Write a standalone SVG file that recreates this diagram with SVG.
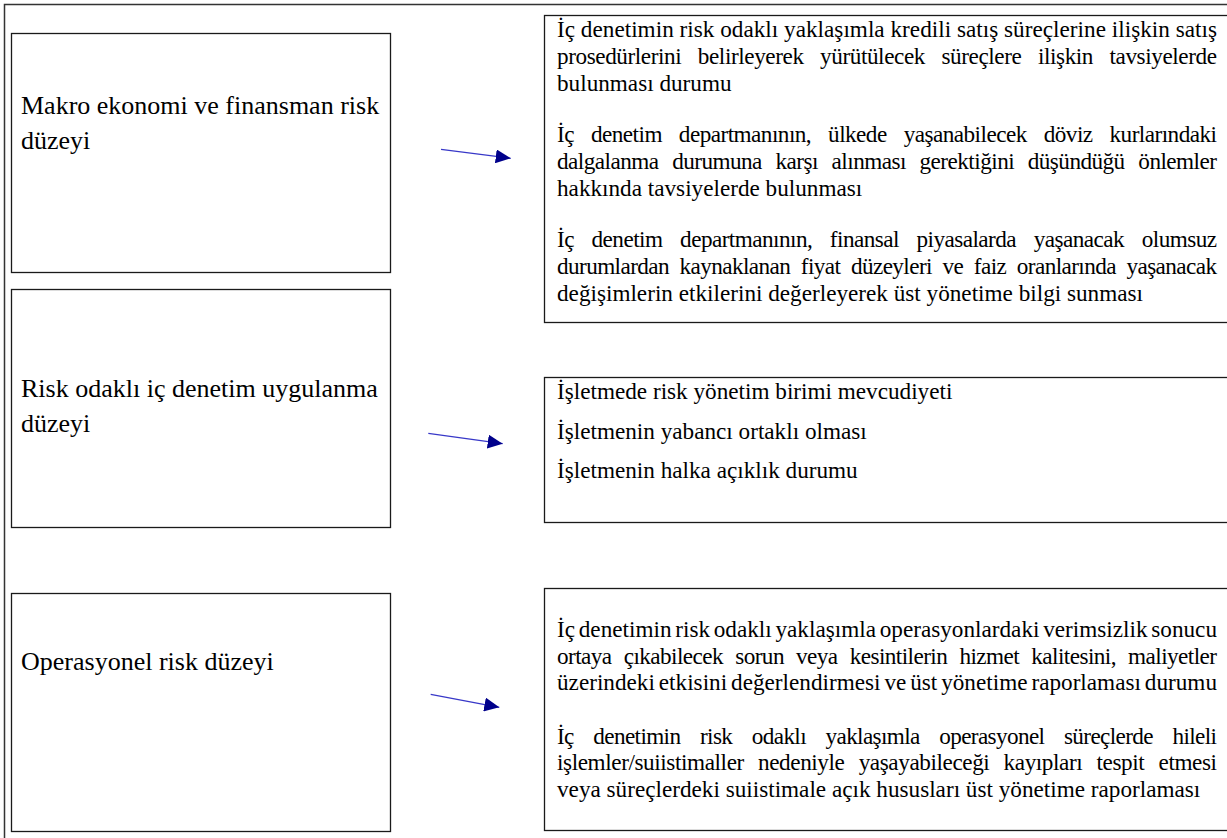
<svg xmlns="http://www.w3.org/2000/svg" width="1227" height="838" viewBox="0 0 1227 838">
<style>
.frame{fill:none;stroke:#333;stroke-width:1.5}
.box{fill:#fff;stroke:#1a1a1a;stroke-width:1.3}
.lbl{font-family:"Liberation Serif","Times New Roman",serif;font-size:26px;fill:#000}
.txt{font-family:"Liberation Serif","Times New Roman",serif;font-size:23.2px;fill:#000}
.conn{stroke:#3838c8;stroke-width:1.2;fill:none;marker-end:url(#ah)}
</style>
<defs>
<marker id="ah" markerUnits="userSpaceOnUse" viewBox="0 0 15 14" refX="15" refY="7" markerWidth="15" markerHeight="14" orient="auto">
<path d="M0,0 L15,7 L0,14 Z" fill="#00008b"/>
</marker>
</defs>
<rect x="0" y="0" width="1227" height="838" fill="#fff"/>
<rect class="frame" x="4.5" y="4.5" width="1240" height="850"/>

<g id="n-makro">
<rect class="box" x="11.5" y="33.5" width="379" height="239"/>
<text class="lbl" x="21" y="114">Makro ekonomi ve finansman risk</text>
<text class="lbl" x="21" y="149">düzeyi</text>
</g>

<g id="n-risk-odakli">
<rect class="box" x="11.5" y="289.5" width="379" height="238"/>
<text class="lbl" x="21" y="397">Risk odaklı iç denetim uygulanma</text>
<text class="lbl" x="21" y="432">düzeyi</text>
</g>

<g id="n-operasyonel">
<rect class="box" x="11.5" y="593.5" width="379" height="238"/>
<text class="lbl" x="21" y="670">Operasyonel risk düzeyi</text>
</g>

<g id="n-makro-detay">
<rect class="box" x="544.5" y="15.5" width="700" height="307"/>
<text class="txt" x="557" y="37" textLength="660" lengthAdjust="spacing">İç denetimin risk odaklı yaklaşımla kredili satış süreçlerine ilişkin satış</text>
<text class="txt" x="557" y="64" style="word-spacing:11.1px" textLength="660" lengthAdjust="spacing">prosedürlerini belirleyerek yürütülecek süreçlere ilişkin tavsiyelerde</text>
<text class="txt" x="557" y="91">bulunması durumu</text>
<text class="txt" x="557" y="142" style="word-spacing:11.7px" textLength="660" lengthAdjust="spacing">İç denetim departmanının, ülkede yaşanabilecek döviz kurlarındaki</text>
<text class="txt" x="557" y="169" style="word-spacing:8.4px" textLength="660" lengthAdjust="spacing">dalgalanma durumuna karşı alınması gerektiğini düşündüğü önlemler</text>
<text class="txt" x="557" y="196">hakkında tavsiyelerde bulunması</text>
<text class="txt" x="557" y="247" style="word-spacing:12.4px" textLength="660" lengthAdjust="spacing">İç denetim departmanının, finansal piyasalarda yaşanacak olumsuz</text>
<text class="txt" x="557" y="274" style="word-spacing:5.4px" textLength="660" lengthAdjust="spacing">durumlardan kaynaklanan fiyat düzeyleri ve faiz oranlarında yaşanacak</text>
<text class="txt" x="557" y="301">değişimlerin etkilerini değerleyerek üst yönetime bilgi sunması</text>
</g>

<g id="n-risk-odakli-detay">
<rect class="box" x="544.5" y="377.5" width="700" height="145"/>
<text class="txt" x="557" y="399">İşletmede risk yönetim birimi mevcudiyeti</text>
<text class="txt" x="557" y="439">İşletmenin yabancı ortaklı olması</text>
<text class="txt" x="557" y="478">İşletmenin halka açıklık durumu</text>
</g>

<g id="n-operasyonel-detay">
<rect class="box" x="544.5" y="588.5" width="700" height="242"/>
<text class="txt" x="557" y="637" style="word-spacing:-2.1px" textLength="660" lengthAdjust="spacing">İç denetimin risk odaklı yaklaşımla operasyonlardaki verimsizlik sonucu</text>
<text class="txt" x="557" y="664" style="word-spacing:6.9px" textLength="660" lengthAdjust="spacing">ortaya çıkabilecek sorun veya kesintilerin hizmet kalitesini, maliyetler</text>
<text class="txt" x="557" y="690" style="word-spacing:-1.9px" textLength="660" lengthAdjust="spacing">üzerindeki etkisini değerlendirmesi ve üst yönetime raporlaması durumu</text>
<text class="txt" x="557" y="744" style="word-spacing:14.4px" textLength="660" lengthAdjust="spacing">İç denetimin risk odaklı yaklaşımla operasyonel süreçlerde hileli</text>
<text class="txt" x="557" y="770" style="word-spacing:8.8px" textLength="660" lengthAdjust="spacing">işlemler/suiistimaller nedeniyle yaşayabileceği kayıpları tespit etmesi</text>
<text class="txt" x="557" y="797">veya süreçlerdeki suiistimale açık hususları üst yönetime raporlaması</text>
</g>

<g id="connectors">
<line class="conn" x1="441" y1="149.3" x2="510.7" y2="158.3"/>
<line class="conn" x1="428.3" y1="433.3" x2="502.7" y2="443.7"/>
<line class="conn" x1="430.7" y1="694.3" x2="499.3" y2="707.3"/>
</g>
</svg>
